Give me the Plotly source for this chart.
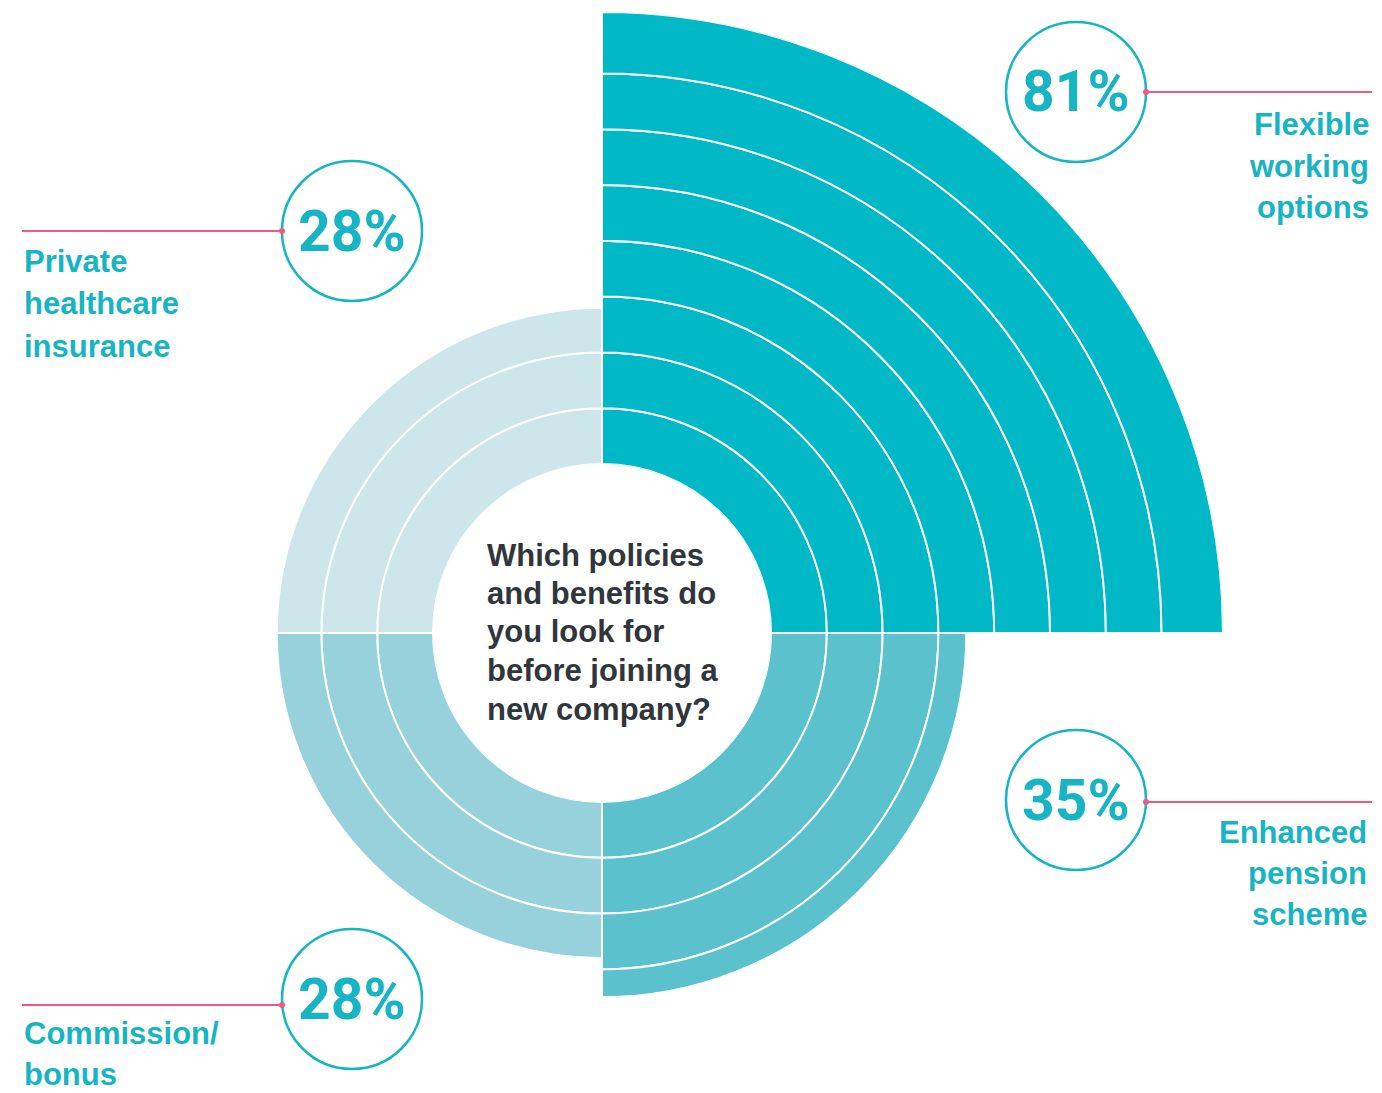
import plotly.graph_objects as go

# ---------------- data ----------------
categories = ["Flexible working options", "Enhanced pension scheme",
              "Commission/bonus", "Private healthcare insurance"]
values = [81, 35, 28, 28]
pct_labels = ["81%", "35%", "28%", "28%"]
label_lines = [["Flexible", "working", "options"],
               ["Enhanced", "pension", "scheme"],
               ["Commission/", "bonus"],
               ["Private", "healthcare", "insurance"]]
question_lines = ["Which policies", "and benefits do", "you look for",
                  "before joining a", "new company?"]
band_step = 10

# ---------------- layout / style ----------------
W, H = 1382, 1093
CX, CY = 602, 633            # centre of the rings (px from top-left)
HOLE_PX = 169
PX_PER_UNIT = 5.58
theta_centres = [45, 315, 225, 135]
fills = ["#00B8C6", "#5BC1CD", "#97D1DC", "#CDE6EB"]
TEAL = "#17B4C4"
PINK = "#F05A7E"
DARK = "#30363B"

circle_pos = [(1076, 92), (1076, 800), (352, 999), (352, 231)]
circle_r = 70
line_y = [92, 802, 1005, 231]
line_x = [(1146, 1372), (1146, 1372), (22, 282), (22, 282)]
label_anchor = [("right", 1371, [125, 167, 208]),
                ("right", 1369, [832, 873, 914]),
                ("left", 22, [1033, 1074]),
                ("left", 22, [261, 303, 346])]
question_x = 485
question_y = [555, 593, 631, 670, 709]


def px(x):
    return x / W


def py(y):
    return 1 - y / H


def bands(v):
    """Split a value into 10-point rings; a leftover under half a ring joins the last ring."""
    bases, lens = [], []
    b = 0
    while b < v:
        rem = v - b
        if band_step < rem < band_step * 1.5:
            bases.append(b)
            lens.append(rem)
            break
        bases.append(b)
        lens.append(min(band_step, rem))
        b += band_step
    return bases, lens


fig = go.Figure()

rA = max(values[1:])
rB = values[0]
RA = HOLE_PX + rA * PX_PER_UNIT
RB = HOLE_PX + rB * PX_PER_UNIT
cyb = H - CY

for i, (cat, v) in enumerate(zip(categories, values)):
    bases, lens = bands(v)
    fig.add_trace(go.Barpolar(
        r=lens, base=bases, theta=[theta_centres[i]] * len(lens),
        width=[90] * len(lens), name=cat,
        marker=dict(color=fills[i], line=dict(color="white", width=2)),
        subplot="polar2" if i == 0 else "polar",
        hoverinfo="name",
    ))

common_axes = dict(
    angularaxis=dict(visible=False, rotation=0, direction="counterclockwise"),
    bgcolor="rgba(0,0,0,0)",
)
fig.update_layout(
    polar=dict(
        domain=dict(x=[px(CX - RA), px(CX + RA)], y=[(cyb - RA) / H, (cyb + RA) / H]),
        hole=HOLE_PX / RA,
        radialaxis=dict(visible=False, range=[0, rA]),
        **common_axes,
    ),
    polar2=dict(
        domain=dict(x=[px(CX), px(CX + RB)], y=[cyb / H, (cyb + RB) / H]),
        sector=[0, 90],
        hole=HOLE_PX / RB,
        radialaxis=dict(visible=False, range=[0, rB]),
        **common_axes,
    ),
)

shapes = []
annotations = []
for i in range(4):
    cx, cy = circle_pos[i]
    shapes.append(dict(type="circle", xref="paper", yref="paper",
                       x0=px(cx - circle_r), x1=px(cx + circle_r),
                       y0=py(cy + circle_r), y1=py(cy - circle_r),
                       line=dict(color=TEAL, width=2.5)))
    x0, x1 = line_x[i]
    shapes.append(dict(type="line", xref="paper", yref="paper",
                       x0=px(x0), x1=px(x1), y0=py(line_y[i]), y1=py(line_y[i]),
                       line=dict(color=PINK, width=2)))
    jx = x0 if i < 2 else x1
    shapes.append(dict(type="circle", xref="paper", yref="paper",
                       x0=px(jx - 3), x1=px(jx + 3), y0=py(line_y[i] + 3), y1=py(line_y[i] - 3),
                       fillcolor=PINK, line=dict(color=PINK, width=0)))
    annotations.append(dict(x=px(cx), y=py(cy), xref="paper", yref="paper",
                            text=pct_labels[i], showarrow=False,
                            xanchor="center", yanchor="middle",
                            font=dict(family="Roboto", size=57, color=TEAL, weight="bold")))
    anchor, ax, ys = label_anchor[i]
    for line, ly in zip(label_lines[i], ys):
        annotations.append(dict(x=px(ax), y=py(ly), xref="paper", yref="paper",
                                text=line, showarrow=False,
                                xanchor=anchor, yanchor="middle",
                                font=dict(family="Liberation Sans", size=31,
                                          color=TEAL, weight="bold")))

for line, ly in zip(question_lines, question_y):
    annotations.append(dict(x=px(question_x), y=py(ly), xref="paper", yref="paper",
                            text=line, showarrow=False,
                            xanchor="left", yanchor="middle",
                            font=dict(family="Liberation Sans", size=31,
                                      color=DARK, weight="bold")))

fig.update_layout(
    width=W, height=H,
    margin=dict(l=0, r=0, t=0, b=0),
    paper_bgcolor="white", plot_bgcolor="white",
    showlegend=False,
    shapes=shapes, annotations=annotations,
)

fig.write_html("out.html")
